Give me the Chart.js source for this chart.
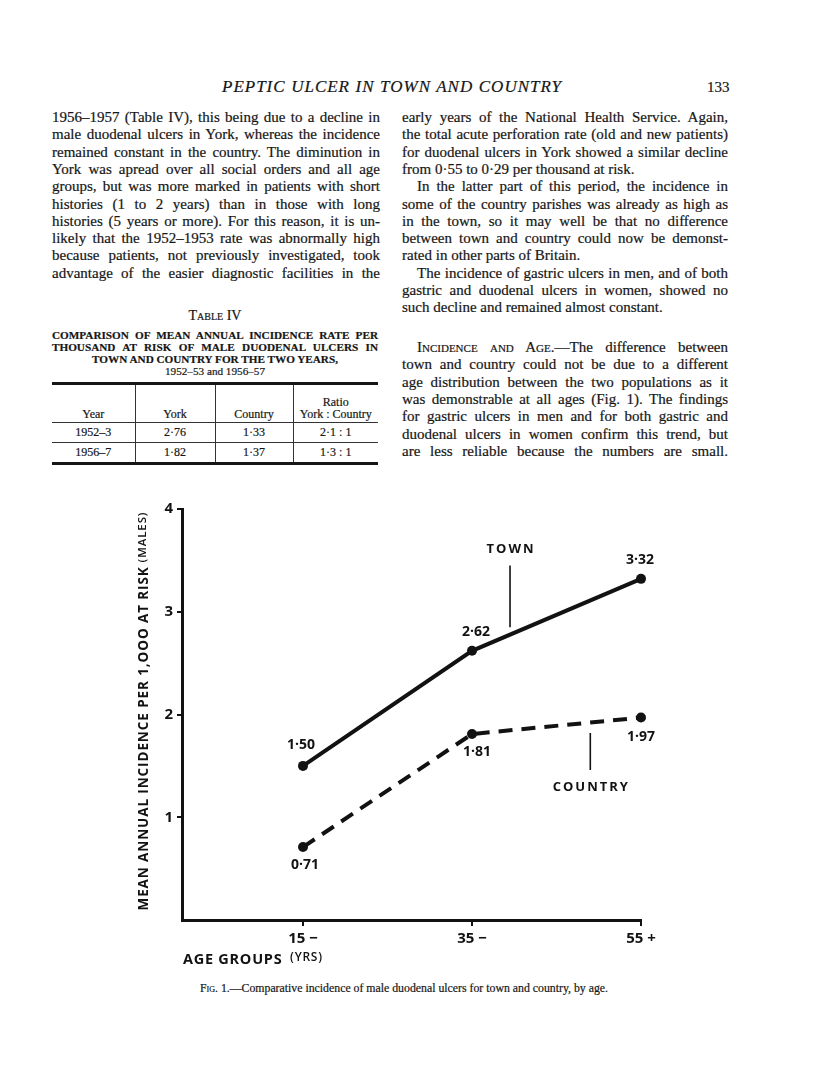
<!DOCTYPE html>
<html>
<head>
<meta charset="utf-8">
<script src="https://cdn.jsdelivr.net/npm/chart.js@4.4.0/dist/chart.umd.min.js"></script>
<style>
  html, body { margin: 0; padding: 0; background: #fff; }
  body {
    width: 816px; height: 1090px; position: relative; overflow: hidden;
    font-family: "Liberation Serif", "Times New Roman", serif; color: #161616;
    -webkit-text-stroke: 0.2px #161616;
  }
  .ln { position: absolute; white-space: nowrap; font-size: 15px; line-height: 18px; height: 18px; }
  .j { text-align: justify; text-align-last: justify; }
  .sc { font-variant: small-caps; }
  .head { position: absolute; top: 77px; left: 222px; width: 340px; font-style: italic; font-size: 17px;
    letter-spacing: 1px; line-height: 20px; text-align: justify; text-align-last: justify; white-space: nowrap; }
  .pnum { position: absolute; top: 78px; left: 707px; font-size: 15px; line-height: 18px; }
  .tcap { position: absolute; left: 52px; width: 326px; font-size: 11.2px; font-weight: bold;
    line-height: 12px; height: 12px; white-space: nowrap; }
  #tbl { position: absolute; left: 52px; top: 382px; width: 326px; border-collapse: collapse;
    border-top: 3px solid #161616; border-bottom: 3px solid #161616; font-size: 12px; }
  #tbl th, #tbl td { padding: 0; text-align: center; font-weight: normal; border-left: 1px solid #333; }
  #tbl th:first-child, #tbl td:first-child { border-left: none; }
  #tbl th { height: 35px; vertical-align: bottom; line-height: 12px; padding-bottom: 2px; border-bottom: 1px solid #333; }
  #tbl td { height: 19px; line-height: 19px; }
  #tbl tr.r1 td { border-bottom: 1px solid #333; }
  #wrap { position: absolute; left: 100px; top: 480px; width: 600px; height: 500px; }
  .fig { position: absolute; top: 980px; left: 4px; width: 800px; text-align: center; font-size: 11.8px; line-height: 16px; }
</style>
</head>
<body>
<div class="head">PEPTIC ULCER IN TOWN AND COUNTRY</div>
<div class="pnum">133</div>
<div id="text"></div>

<div class="tcap sc" style="top:309px; text-align:center; font-weight:normal; font-size:14px; line-height:14px;">Table IV</div>
<div class="tcap j" style="top:329px;">COMPARISON OF MEAN ANNUAL INCIDENCE RATE PER</div>
<div class="tcap j" style="top:341px;">THOUSAND AT RISK OF MALE DUODENAL ULCERS IN</div>
<div class="tcap" style="top:353px; text-align:center;">TOWN AND COUNTRY FOR THE TWO YEARS,</div>
<div class="tcap" style="top:365px; text-align:center; font-weight:normal;">1952–53 and 1956–57</div>

<table id="tbl">
  <colgroup><col style="width:83px"><col style="width:80px"><col style="width:78px"><col style="width:85px"></colgroup>
  <tr><th>Year</th><th>York</th><th>Country</th><th>Ratio<br>York : Country</th></tr>
  <tr class="r1"><td>1952–3</td><td>2·76</td><td>1·33</td><td>2·1 : 1</td></tr>
  <tr><td>1956–7</td><td>1·82</td><td>1·37</td><td>1·3 : 1</td></tr>
</table>

<div id="wrap"><canvas id="chart"></canvas></div>
<div class="fig"><span class="sc">Fig.</span> 1.—Comparative incidence of male duodenal ulcers for town and country, by age.</div>

<script>
// chart data
const ageGroups = ["15 −", "35 −", "55 +"];
const town = [1.50, 2.62, 3.32];
const country = [0.71, 1.81, 1.97];
const yTicks = [1, 2, 3, 4];

const ink = "#121212";
const sans = '"Open Sans", "DejaVu Sans", sans-serif';

// body text, line by line as printed (1 = justified, 2 = justified + indent)
const leftLines = [
  ["1956–1957 (Table IV), this being due to a decline in", 1],
  ["male duodenal ulcers in York, whereas the incidence", 1],
  ["remained constant in the country. The diminution in", 1],
  ["York was apread over all social orders and all age", 1],
  ["groups, but was more marked in patients with short", 1],
  ["histories (1 to 2 years) than in those with long", 1],
  ["histories (5 years or more). For this reason, it is un-", 1],
  ["likely that the 1952–1953 rate was abnormally high", 1],
  ["because patients, not previously investigated, took", 1],
  ["advantage of the easier diagnostic facilities in the", 1],
];
const rightLines = [
  ["early years of the National Health Service. Again,", 1],
  ["the total acute perforation rate (old and new patients)", 1],
  ["for duodenal ulcers in York showed a similar decline", 1],
  ["from 0·55 to 0·29 per thousand at risk.", 0],
  ["In the latter part of this period, the incidence in", 2],
  ["some of the country parishes was already as high as", 1],
  ["in the town, so it may well be that no difference", 1],
  ["between town and country could now be demonst-", 1],
  ["rated in other parts of Britain.", 0],
  ["The incidence of gastric ulcers in men, and of both", 2],
  ["gastric and duodenal ulcers in women, showed no", 1],
  ["such decline and remained almost constant.", 0],
];
const rightLines2 = [
  ['<span class="sc">Incidence and Age</span>.—The difference between', 2],
  ["town and country could not be due to a different", 1],
  ["age distribution between the two populations as it", 1],
  ["was demonstrable at all ages (Fig. 1). The findings", 1],
  ["for gastric ulcers in men and for both gastric and", 1],
  ["duodenal ulcers in women confirm this trend, but", 1],
  ["are less reliable because the numbers are small.", 1],
];

const textBox = document.getElementById("text");
function putLines(lines, left, width, top) {
  lines.forEach((l, i) => {
    const d = document.createElement("div");
    const ind = l[1] === 2 ? 15 : 0;
    d.className = "ln" + (l[1] ? " j" : "");
    d.style.left = (left + ind) + "px";
    d.style.width = (width - ind) + "px";
    d.style.top = (top + i * 17.3) + "px";
    d.innerHTML = l[0];
    textBox.appendChild(d);
  });
}
putLines(leftLines, 52, 328, 108);
putLines(rightLines, 402, 326, 108);
putLines(rightLines2, 402, 326, 338);

// label offsets from each point, px
const labelOffsets = [
  [[-2, -21], [4, -19], [-1, -19]],
  [[2, 18], [5, 18], [0, 19]],
];
// series names with leader lines, in data units
const seriesNotes = [
  { text: "TOWN", x: 1.225, y: 3.61, from: 3.45, to: 2.85 },
  { text: "COUNTRY", x: 1.70, y: 1.29, from: 1.82, to: 1.46 },
];

function drawRun(ctx, parts, x0, y0, width) {
  let n = 0, nat = 0;
  parts.forEach(p => {
    ctx.font = p.font;
    for (const ch of p.text) { nat += ctx.measureText(ch).width; n++; }
  });
  const gap = width ? (width - nat) / (n - 1) : 0;
  let x = x0;
  parts.forEach(p => {
    ctx.font = p.font;
    for (const ch of p.text) {
      ctx.fillText(ch, x, y0 + (p.dy || 0));
      x += ctx.measureText(ch).width + gap;
    }
  });
}

function spacedCenter(ctx, text, cx, cy, sp) {
  let w = 0;
  for (const ch of text) w += ctx.measureText(ch).width;
  w += sp * (text.length - 1);
  let x = cx - w / 2;
  ctx.textAlign = "left";
  for (const ch of text) {
    ctx.fillText(ch, x, cy);
    x += ctx.measureText(ch).width + sp;
  }
}

const notes = {
  id: "notes",
  afterDatasetsDraw(chart) {
    const { ctx, scales: { x, y } } = chart;
    ctx.save();
    ctx.fillStyle = ink;
    ctx.strokeStyle = ink;
    ctx.textBaseline = "middle";
    ctx.font = "bold 14px " + sans;
    chart.data.datasets.forEach((ds, di) => {
      chart.getDatasetMeta(di).data.forEach((pt, i) => {
        const off = labelOffsets[di][i];
        ctx.textAlign = "center";
        ctx.fillText(ds.data[i].y.toFixed(2).replace(".", "·"), pt.x + off[0], pt.y + off[1]);
      });
    });
    seriesNotes.forEach(nt => {
      const px = x.getPixelForValue(nt.x);
      ctx.font = "bold 13px " + sans;
      spacedCenter(ctx, nt.text, px, y.getPixelForValue(nt.y), 2);
      ctx.lineWidth = 1.6;
      ctx.beginPath();
      ctx.moveTo(px, y.getPixelForValue(nt.from));
      ctx.lineTo(px, y.getPixelForValue(nt.to));
      ctx.stroke();
    });
    ctx.restore();
  },
  afterDraw(chart) {
    const { ctx, chartArea: a } = chart;
    ctx.save();
    ctx.fillStyle = ink;
    ctx.textAlign = "left";
    ctx.textBaseline = "middle";
    // y axis title, read bottom to top
    ctx.translate(a.left - 38, (a.top + a.bottom) / 2 - 3);
    ctx.rotate(-Math.PI / 2);
    drawRun(ctx, [
      { text: "MEAN ANNUAL INCIDENCE PER 1,OOO AT RISK", font: "bold 13.5px " + sans },
      { text: " (MALES)", font: "600 11.5px " + sans, dy: -1 },
    ], -199, 0, 398);
    ctx.restore();
    ctx.save();
    ctx.fillStyle = ink;
    ctx.textAlign = "left";
    ctx.textBaseline = "middle";
    drawRun(ctx, [
      { text: "AGE GROUPS", font: "bold 14.5px " + sans },
      { text: "  (YRS)", font: "600 12px " + sans, dy: -2 },
    ], a.left + 1, a.bottom + 40, 139);
    ctx.restore();
  },
};

new Chart(document.getElementById("chart"), {
  type: "line",
  data: {
    datasets: [
      {
        label: "Town",
        data: ageGroups.map((g, i) => ({ x: i, y: town[i] })),
        borderColor: ink,
        backgroundColor: ink,
        borderWidth: 4,
        pointRadius: 5,
        pointBorderWidth: 0,
        tension: 0,
        clip: false,
      },
      {
        label: "Country",
        data: ageGroups.map((g, i) => ({ x: i, y: country[i] })),
        borderColor: ink,
        backgroundColor: ink,
        borderWidth: 4,
        borderDash: [14, 9],
        pointRadius: 5,
        pointBorderWidth: 0,
        tension: 0,
        clip: false,
      },
    ],
  },
  options: {
    responsive: true,
    maintainAspectRatio: false,
    devicePixelRatio: 1,
    animation: false,
    layout: { padding: { top: 29, right: 59, left: 0, bottom: 0 } },
    plugins: { legend: { display: false }, tooltip: { enabled: false } },
    scales: {
      x: {
        type: "linear",
        min: -0.716,
        max: 2,
        afterBuildTicks: (s) => { s.ticks = ageGroups.map((g, i) => ({ value: i })); },
        afterFit: (s) => { s.height = 60; },
        ticks: {
          callback: (v) => ageGroups[v],
          font: { family: sans, size: 15, weight: "bold" },
          color: ink,
          padding: 4,
          maxRotation: 0,
          autoSkip: false,
        },
        grid: { drawOnChartArea: false, drawTicks: true, tickLength: 6, color: ink, lineWidth: 2 },
        border: { display: true, color: ink, width: 3 },
      },
      y: {
        min: 0,
        max: 4,
        afterBuildTicks: (s) => { s.ticks = yTicks.map(v => ({ value: v })); },
        afterFit: (s) => { s.width = 82; },
        ticks: {
          callback: (v) => String(v),
          font: { family: sans, size: 15, weight: "bold" },
          color: ink,
          padding: 4,
        },
        grid: { drawOnChartArea: false, drawTicks: true, tickLength: 5, color: ink, lineWidth: 2 },
        border: { display: true, color: ink, width: 3 },
      },
    },
  },
  plugins: [notes],
});
</script>
</body>
</html>
